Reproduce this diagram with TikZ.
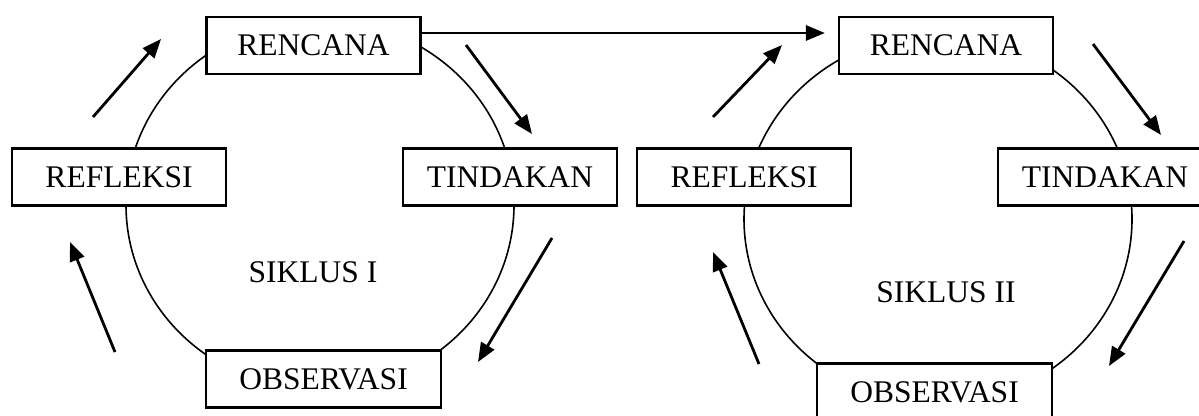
\documentclass[tikz,border=0pt]{standalone}
\usepackage{fontspec}
\setmainfont{Liberation Serif}
\usetikzlibrary{arrows.meta}
\begin{document}
\begin{tikzpicture}[x=1pt,y=-1pt,
  stage/.style={draw=black,line width=2.2pt,fill=white,minimum height=57pt,
    inner sep=0pt,font=\fontsize{31.5}{36}\selectfont},
  wide/.style={minimum width=214pt},
  wider/.style={minimum width=235pt},
  cyc/.style={draw=black,line width=1.6pt},
  flow/.style={line width=2.8pt,-{Triangle[length=19pt,width=15pt]}},
  label/.style={font=\fontsize{31.5}{36}\selectfont}]
\useasboundingbox (0,0) rectangle (1199,415);
\clip (0,0) rectangle (1199,415);

% cycle outlines
\draw[cyc] (320,205) ellipse [x radius=194, y radius=185];
\draw[cyc] (938,219) ellipse [x radius=194, y radius=185];

% first cycle
\node[stage,wide]  (R1) at (313.5,45.5) {RENCANA};
\node[stage,wide]  (F1) at (119,177)    {REFLEKSI};
\node[stage,wide]  (T1) at (510,177)    {TINDAKAN};
\node[stage,wider] (O1) at (323.5,379)  {OBSERVASI};
\node[label]       (S1) at (313,272)    {SIKLUS I};

% second cycle
\node[stage,wide]  (R2) at (946,45.5)   {RENCANA};
\node[stage,wide]  (F2) at (744,177)    {REFLEKSI};
\node[stage,wide]  (T2) at (1105,177)   {TINDAKAN};
\node[stage,wider] (O2) at (934.5,392)  {OBSERVASI};
\node[label]       (S2) at (946,292)    {SIKLUS II};

% flow arrows of the first cycle
\coordinate (a1s) at (93,117);  \coordinate (a1e) at (161,39);
\coordinate (a2s) at (466,45);  \coordinate (a2e) at (532,134);
\coordinate (a3s) at (552,238); \coordinate (a3e) at (478,362);
\coordinate (a4s) at (115,352); \coordinate (a4e) at (70,242);
\draw[flow] (a1s) -- (a1e);
\draw[flow] (a2s) -- (a2e);
\draw[flow] (a3s) -- (a3e);
\draw[flow] (a4s) -- (a4e);

% flow arrows of the second cycle
\coordinate (b1s) at (713,117);  \coordinate (b1e) at (782,45);
\coordinate (b2s) at (1093,44);  \coordinate (b2e) at (1161,135);
\coordinate (b3s) at (1184,241); \coordinate (b3e) at (1109,366);
\coordinate (b4s) at (759,364);  \coordinate (b4e) at (713,252);
\draw[flow] (b1s) -- (b1e);
\draw[flow] (b2s) -- (b2e);
\draw[flow] (b3s) -- (b3e);
\draw[flow] (b4s) -- (b4e);

% link from the first plan to the second
\coordinate (lk) at ([xshift=-13pt]R2.west |- 0,33);
\draw[flow] (R1.east |- 0,33) -- (lk);
\end{tikzpicture}
\end{document}
